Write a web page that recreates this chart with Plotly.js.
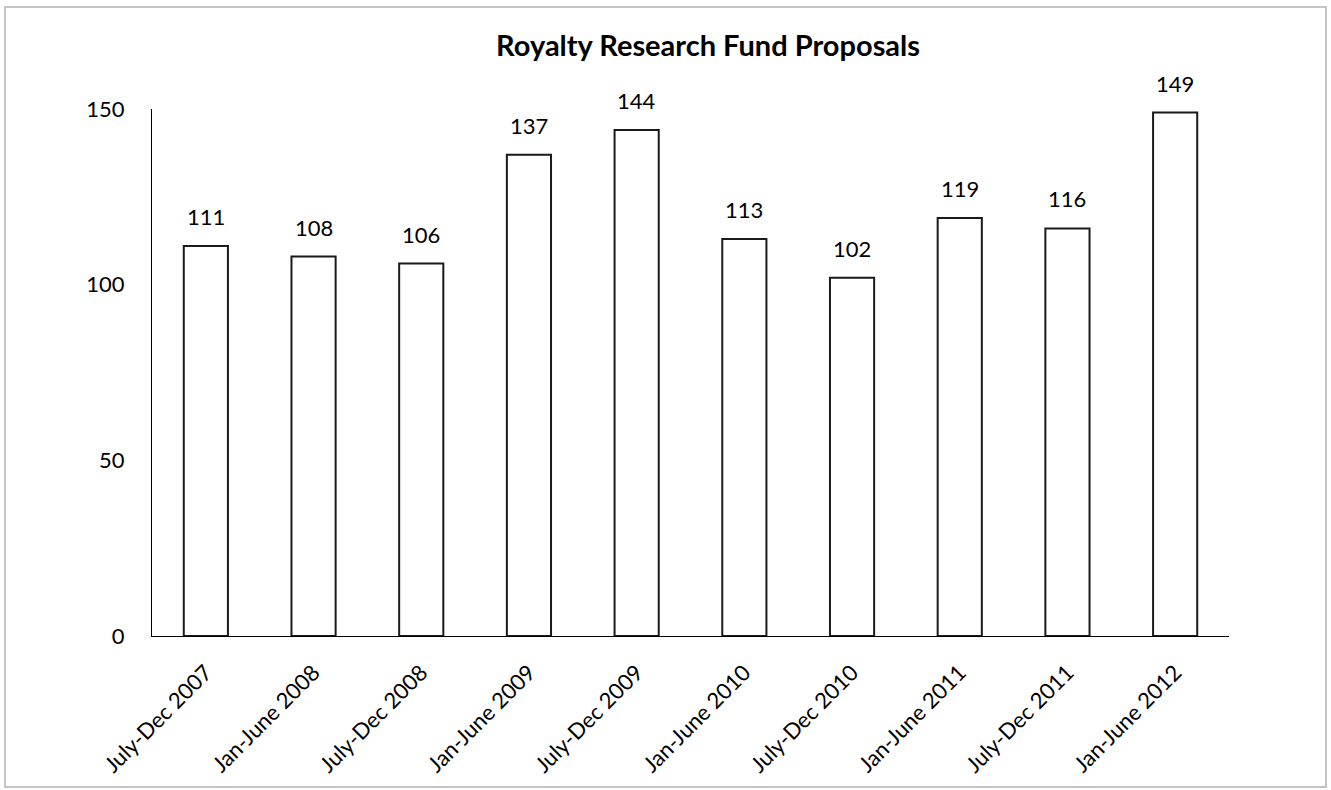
<!DOCTYPE html>
<html>
<head>
<meta charset="utf-8">
<script src="https://cdn.plot.ly/plotly-3.0.1.min.js"></script>
<style>
html,body{margin:0;padding:0;background:#fff;}
#wrap{position:relative;width:1331px;height:790px;}
#chart{width:1331px;height:790px;}
#frame{position:absolute;left:4px;top:6px;width:1323px;height:782px;border:2px solid #c4c4c4;pointer-events:none;box-sizing:border-box;}
</style>
</head>
<body>
<div id="wrap"><div id="chart"></div><div id="frame"></div></div>
<script>
const categories = ["July-Dec 2007","Jan-June 2008","July-Dec 2008","Jan-June 2009","July-Dec 2009","Jan-June 2010","July-Dec 2010","Jan-June 2011","July-Dec 2011","Jan-June 2012"];
const proposals = [111,108,106,137,144,113,102,119,116,149];
const yTicks = [0,50,100,150];

const FONT = "Lato, Carlito, Calibri, 'Open Sans', sans-serif";

const trace = {
  type: 'bar',
  x: categories,
  y: proposals,
  marker: {color: '#ffffff', line: {color: '#1a1a1a', width: 2}},
  hoverinfo: 'x+y'
};

const annotations = categories.map((c, i) => ({
  x: c, y: proposals[i], xref: 'x', yref: 'y',
  text: String(proposals[i]), showarrow: false,
  yanchor: 'bottom', yshift: 14,
  font: {family: FONT, size: 22, color: '#000'}
}));

const layout = {
  width: 1331, height: 790,
  margin: {l: 152, r: 102, t: 109, b: 154},
  paper_bgcolor: '#fff', plot_bgcolor: '#fff',
  bargap: 0.59,
  showlegend: false,
  title: {text: '<b>Royalty Research Fund Proposals</b>', x: 0.532, xanchor: 'center', y: 0.942, yanchor: 'middle',
          font: {family: FONT, size: 29, color: '#000'}},
  xaxis: {
    type: 'category',
    showline: true, linecolor: '#000', linewidth: 1,
    showgrid: false, zeroline: false,
    ticks: '', tickangle: -45, ticklabelstandoff: 14,
    tickfont: {family: FONT, size: 22, color: '#000'}
  },
  yaxis: {
    range: [0, 150], tickvals: yTicks, ticktext: yTicks.map(String),
    showline: true, linecolor: '#000', linewidth: 1,
    showgrid: false, zeroline: false,
    ticks: '', ticklabelstandoff: 22,
    tickfont: {family: FONT, size: 22, color: '#000'},
    fixedrange: true
  },
  annotations: annotations
};

Plotly.newPlot('chart', [trace], layout, {displayModeBar: false, staticPlot: true});
</script>
</body>
</html>
